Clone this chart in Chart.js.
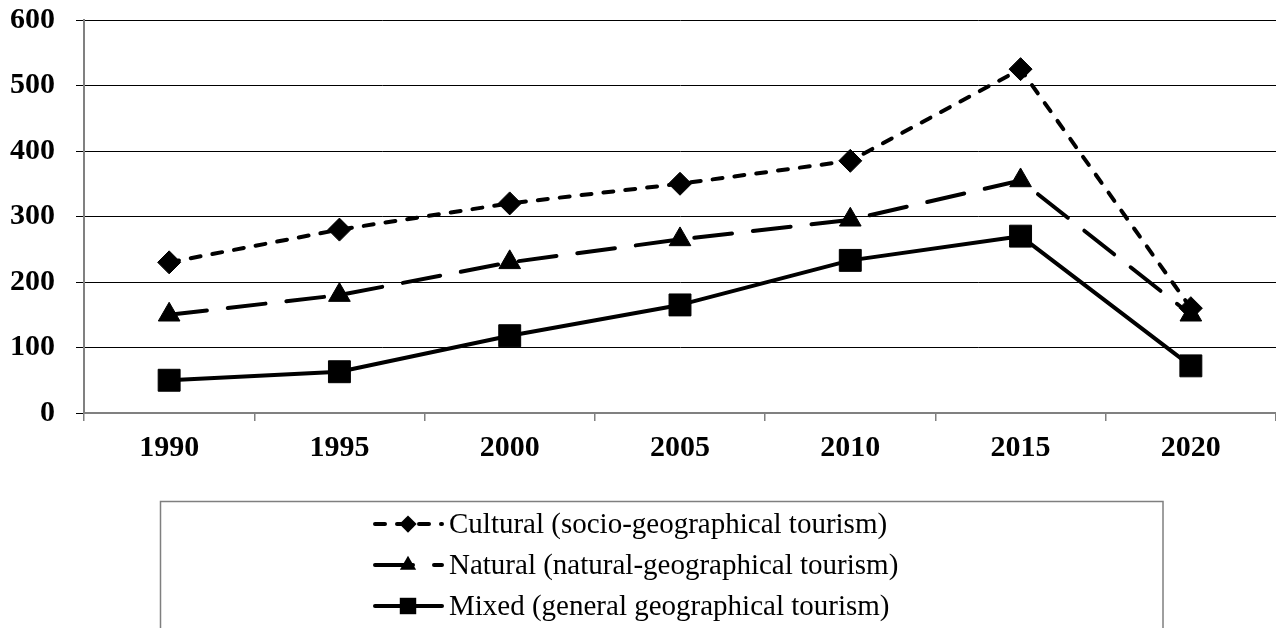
<!DOCTYPE html>
<html>
<head>
<meta charset="utf-8">
<script src="https://cdn.jsdelivr.net/npm/chart.js@4.4.0/dist/chart.umd.min.js"></script>
<style>
  html, body { margin: 0; padding: 0; background: #fff; }
  #wrap { width: 1276px; height: 628px; }
</style>
</head>
<body>
<div id="wrap"><canvas id="c" width="1276" height="628"></canvas></div>
<script>
// ---- data ----
const years = ['1990', '1995', '2000', '2005', '2010', '2015', '2020'];
const cultural = [230, 280, 320, 350, 385, 525, 160];
const natural = [150, 180, 230, 265, 295, 355, 150];
const mixed = [50, 63, 118, 165, 233, 270, 72];
const seriesNames = [
  'Cultural (socio-geographical tourism)',
  'Natural (natural-geographical tourism)',
  'Mixed (general geographical tourism)'
];
const yTicks = [0, 100, 200, 300, 400, 500, 600];

const SERIF = "'Liberation Serif', 'Times New Roman', serif";

const datasets = [
  { label: seriesNames[0], data: cultural, borderDash: [10, 12], pointStyle: 'rectRot', pointRadius: 11.5 },
  { label: seriesNames[1], data: natural, borderDash: [38, 21], pointStyle: 'triangle', pointRadius: 12.5 },
  { label: seriesNames[2], data: mixed, borderDash: [], pointStyle: 'rect', pointRadius: 15.5 }
].map(d => Object.assign({
  borderColor: '#000',
  backgroundColor: '#000',
  pointBackgroundColor: '#000',
  pointBorderColor: '#000',
  pointBorderWidth: 1,
  borderWidth: 4,
  borderCapStyle: 'round',
  borderJoinStyle: 'round',
  tension: 0,
  fill: false
}, d));

function drawMarker(ctx, style, x, y, r) {
  ctx.beginPath();
  if (style === 'rectRot') {
    ctx.moveTo(x, y - r); ctx.lineTo(x + r, y); ctx.lineTo(x, y + r); ctx.lineTo(x - r, y);
  } else if (style === 'triangle') {
    const w = r * 0.866;
    ctx.moveTo(x, y - r); ctx.lineTo(x + w, y + r * 0.5); ctx.lineTo(x - w, y + r * 0.5);
  } else {
    const s = r * Math.SQRT1_2;
    ctx.rect(x - s, y - s, 2 * s, 2 * s);
  }
  ctx.closePath();
  ctx.fill();
}

const legendPlugin = {
  id: 'boxLegend',
  afterDraw(chart) {
    const ctx = chart.ctx;
    ctx.save();
    ctx.strokeStyle = '#7f7f7f';
    ctx.lineWidth = 1.5;
    ctx.strokeRect(160.5, 501.5, 1002.5, 200);
    const rows = [524, 565, 606];
    chart.data.datasets.forEach((ds, i) => {
      const y = rows[i];
      ctx.save();
      ctx.strokeStyle = '#000';
      ctx.lineWidth = 4;
      ctx.lineCap = 'round';
      ctx.setLineDash(ds.borderDash || []);
      ctx.beginPath();
      ctx.moveTo(375, y); ctx.lineTo(442, y);
      ctx.stroke();
      ctx.restore();
      ctx.fillStyle = '#000';
      drawMarker(ctx, ds.pointStyle, 408, y, ds.pointRadius * 0.75);
      ctx.font = '29px ' + SERIF;
      ctx.textBaseline = 'middle';
      ctx.textAlign = 'left';
      ctx.fillText(ds.label, 449, y + 1);
    });
    ctx.restore();
  }
};

function noPad(scale) {
  scale.paddingTop = 0; scale.paddingBottom = 0;
  scale.paddingLeft = 0; scale.paddingRight = 0;
}

new Chart(document.getElementById('c'), {
  type: 'line',
  data: { labels: years, datasets: datasets },
  options: {
    responsive: false,
    animation: false,
    events: [],
    layout: { autoPadding: false, padding: { top: 20, left: 0, right: 0, bottom: 155 } },
    plugins: { legend: { display: false }, tooltip: { enabled: false }, title: { display: false } },
    scales: {
      x: {
        offset: true,
        grid: { display: true, drawOnChartArea: false, drawTicks: true, tickLength: 8, color: '#808080', lineWidth: 1.5, offset: true },
        border: { display: true, color: '#808080', width: 2 },
        ticks: { color: '#000', font: { family: SERIF, size: 30, weight: 'bold' }, padding: 9, maxRotation: 0, autoSkip: false },
        afterFit(scale) { scale.height = 60; noPad(scale); }
      },
      y: {
        min: 0, max: 600,
        afterBuildTicks(scale) { scale.ticks = yTicks.map(v => ({ value: v })); },
        grid: { color: '#000', lineWidth: 1, drawTicks: true, tickLength: 8 },
        border: { display: true, color: '#808080', width: 2 },
        ticks: { color: '#000', font: { family: SERIF, size: 30, weight: 'bold' }, padding: 21 },
        afterFit(scale) { scale.width = 84; noPad(scale); }
      }
    }
  },
  plugins: [legendPlugin]
});
</script>
</body>
</html>
